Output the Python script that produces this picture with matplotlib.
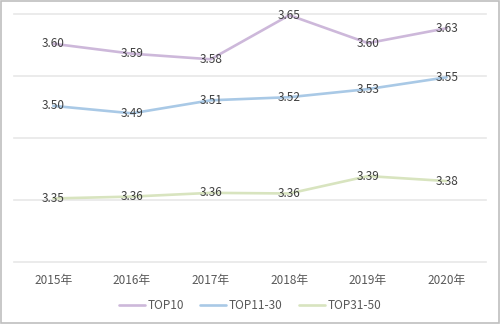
import matplotlib.pyplot as plt
import numpy as np

plt.rcParams['font.family'] = ['Noto Sans CJK SC', 'DejaVu Sans']

years = ["2015年", "2016年", "2017年", "2018年", "2019年", "2020年"]
top10 = [3.602, 3.586, 3.577, 3.648, 3.603, 3.627]
top11_30 = [3.502, 3.490, 3.511, 3.516, 3.529, 3.548]
top31_50 = [3.353, 3.356, 3.362, 3.361, 3.389, 3.381]
series_names = ["TOP10", "TOP11-30", "TOP31-50"]
colors = ["#cdb8da", "#a9c9e6", "#d8e4bf"]

fig = plt.figure(figsize=(5.0, 3.24), dpi=100)
ax = fig.add_axes([0.028, 0.19, 0.944, 0.767])

x = np.arange(len(years))
for vals, name, c in zip([top10, top11_30, top31_50], series_names, colors):
    ax.plot(x, vals, color=c, linewidth=1.9, label=name, zorder=2, solid_capstyle="round")
    for xi, v in zip(x, vals):
        ax.text(xi, v, f"{v:.2f}", ha="center", va="center", fontsize=8.5,
                color="#404040", zorder=3)

ax.set_xlim(-0.5, len(years) - 0.5)
ax.set_ylim(3.25, 3.65)
ax.set_yticks([3.25, 3.35, 3.45, 3.55, 3.65])
ax.yaxis.grid(True, color="#e8e8e8", linewidth=1.2)
for gl in ax.get_ygridlines():
    gl.set_clip_on(False)
ax.set_axisbelow(True)
ax.tick_params(axis="y", left=False, labelleft=False)
ax.tick_params(axis="x", bottom=False, labelsize=8.5, colors="#595959", pad=5)
ax.set_xticks(x)
ax.set_xticklabels(years)
for s in ax.spines.values():
    s.set_visible(False)

leg = fig.legend(loc="lower center", bbox_to_anchor=(0.5, 0.005), ncol=3, frameon=False,
                 fontsize=8.5, handlelength=2.2, handletextpad=0.2, columnspacing=1.4)
for t in leg.get_texts():
    t.set_color("#595959")

fig.patches.append(plt.Rectangle((0.002, 0.003), 0.995, 0.994, transform=fig.transFigure,
                                 fill=False, edgecolor="#bfbfbf", linewidth=1.2))

fig.savefig("out.png", dpi=100, facecolor="white")
